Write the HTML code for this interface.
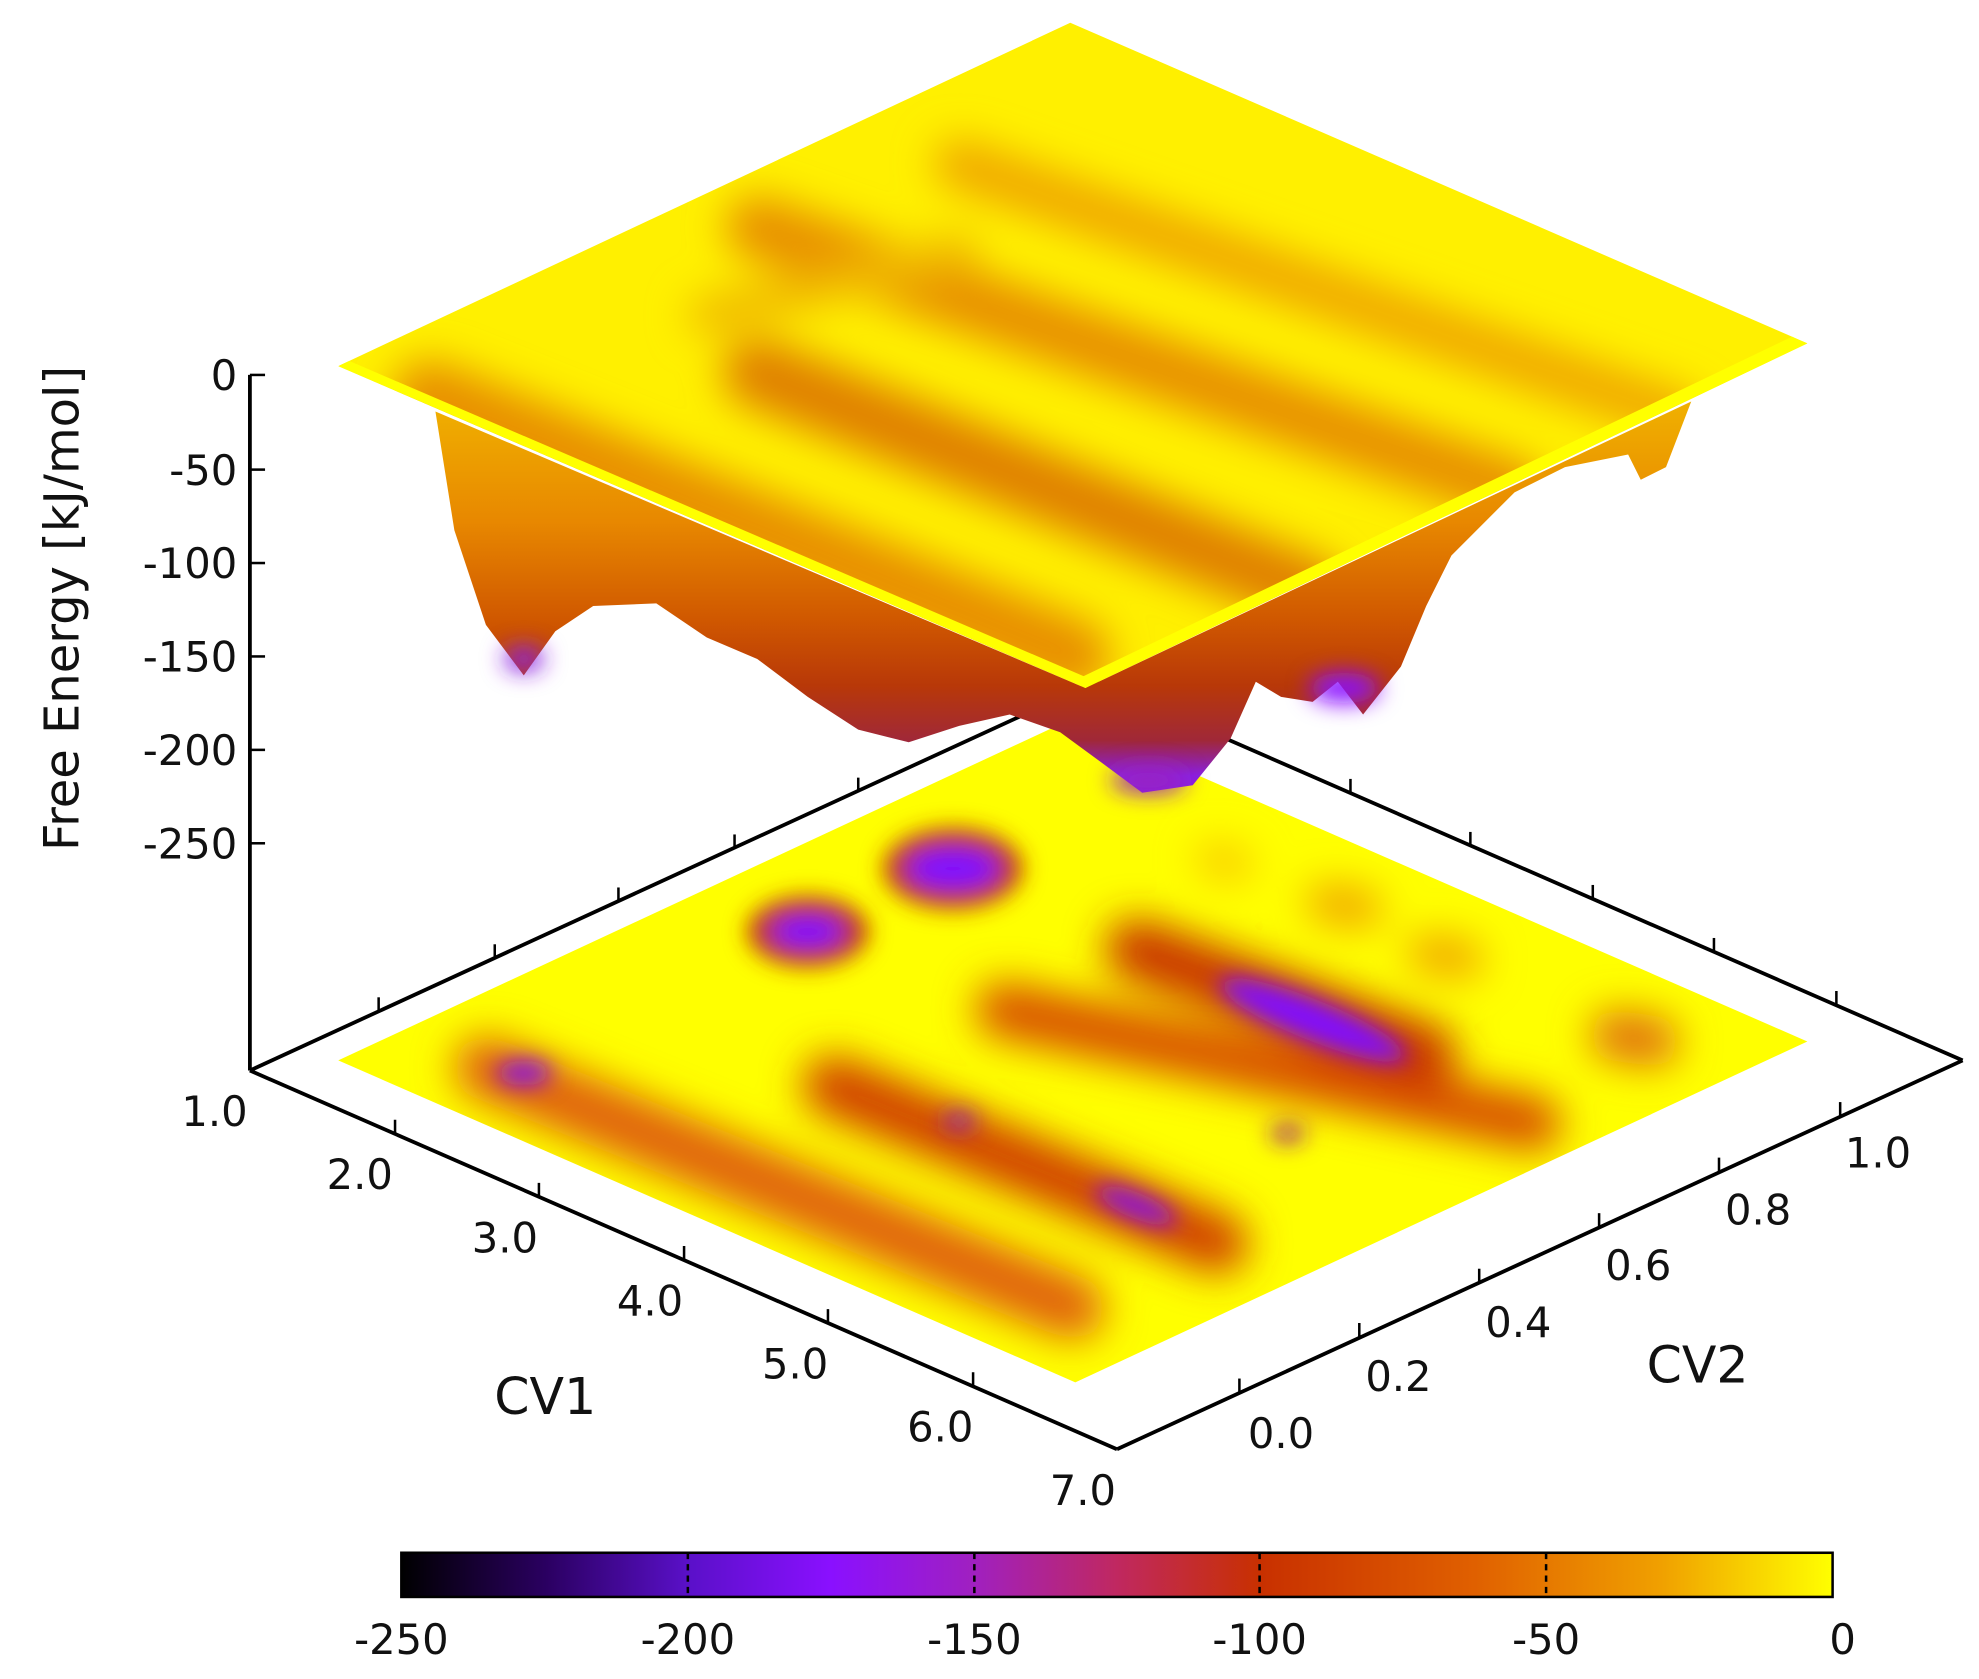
<!DOCTYPE html>
<html><head><meta charset="utf-8"><style>
html,body{margin:0;padding:0;background:#fff;}
svg{display:block;}
text{font-family:"DejaVu Sans","Liberation Sans",sans-serif;fill:#111;}
</style></head><body>
<svg width="1979" height="1679" viewBox="0 0 1568 1330" preserveAspectRatio="none" xmlns="http://www.w3.org/2000/svg">
<defs>
<linearGradient id="cb" x1="0" x2="1" y1="0" y2="0">
<stop offset="0" stop-color="#000000"/>
<stop offset="0.1" stop-color="#2a0060"/>
<stop offset="0.2" stop-color="#5a10c8"/>
<stop offset="0.3" stop-color="#8a10ff"/>
<stop offset="0.4" stop-color="#a020c0"/>
<stop offset="0.5" stop-color="#c02860"/>
<stop offset="0.6" stop-color="#c83000"/>
<stop offset="0.75" stop-color="#e06000"/>
<stop offset="0.88" stop-color="#f0a000"/>
<stop offset="1" stop-color="#ffff00"/>
</linearGradient>
<linearGradient id="wall" x1="0" x2="0" y1="320" y2="630" gradientUnits="userSpaceOnUse">
<stop offset="0" stop-color="#f0b000"/>
<stop offset="0.3" stop-color="#e88800"/>
<stop offset="0.55" stop-color="#d05800"/>
<stop offset="0.72" stop-color="#b83808"/>
<stop offset="0.86" stop-color="#a02838"/>
<stop offset="0.95" stop-color="#8a20e0"/>
</linearGradient>
<filter id="bl" x="-50%" y="-50%" width="200%" height="200%"><feGaussianBlur stdDeviation="16"/></filter>
<filter id="bl2" x="-50%" y="-50%" width="200%" height="200%"><feGaussianBlur stdDeviation="9"/></filter>
<clipPath id="hm"><polygon points="268,840 852,1095 1432,825 848,570"/></clipPath>
<clipPath id="top"><polygon points="268,290 848,18 1432,272 860,545"/></clipPath>
</defs>

<g stroke="#000" stroke-width="3" fill="none">
<line x1="198" y1="848" x2="868" y2="540"/>
<line x1="1555" y1="840" x2="868" y2="540"/>
</g>
<g stroke="#000" stroke-width="2">
<line x1="300" y1="801" x2="300" y2="790"/><line x1="392" y1="759" x2="392" y2="748"/>
<line x1="490" y1="714" x2="490" y2="703"/><line x1="582" y1="672" x2="582" y2="661"/>
<line x1="680" y1="627" x2="680" y2="616"/>
<line x1="1070" y1="628" x2="1070" y2="617"/><line x1="1165" y1="670" x2="1165" y2="659"/>
<line x1="1262" y1="712" x2="1262" y2="701"/><line x1="1358" y1="754" x2="1358" y2="743"/>
<line x1="1455" y1="796" x2="1455" y2="785"/>
</g>

<polygon points="268,840 852,1095 1432,825 848,570" fill="#ffff00"/>
<g clip-path="url(#hm)">
<g filter="url(#bl)" stroke-linecap="round" fill="none">
<line x1="385" y1="846" x2="850" y2="1036" stroke="#e06010" stroke-width="50"/>
<line x1="660" y1="860" x2="965" y2="985" stroke="#d04000" stroke-width="48"/>
<line x1="795" y1="800" x2="1215" y2="890" stroke="#d85000" stroke-width="44"/>
<line x1="900" y1="752" x2="1130" y2="835" stroke="#c83000" stroke-width="48"/>
<line x1="1280" y1="820" x2="1310" y2="825" stroke="#e07010" stroke-width="40"/>
<line x1="1050" y1="715" x2="1080" y2="720" stroke="#f0a000" stroke-width="30"/>
<line x1="1130" y1="755" x2="1160" y2="760" stroke="#f0a000" stroke-width="30"/>
<line x1="960" y1="680" x2="980" y2="685" stroke="#f8c000" stroke-width="24"/>
</g>
<g filter="url(#bl2)">
<ellipse cx="640" cy="738" rx="48" ry="28" fill="#c03010"/>
<ellipse cx="755" cy="688" rx="55" ry="32" fill="#c03010"/>
<ellipse cx="640" cy="738" rx="28" ry="12" fill="#8010ff"/>
<ellipse cx="755" cy="688" rx="36" ry="16" fill="#8010ff"/>
<ellipse cx="415" cy="850" rx="22" ry="10" fill="#8a10e0"/>
<ellipse cx="900" cy="955" rx="35" ry="10" fill="#8a10e0" transform="rotate(22 900 955)"/>
<ellipse cx="760" cy="888" rx="14" ry="7" fill="#9020b0"/>
<ellipse cx="1040" cy="808" rx="80" ry="16" fill="#8010ff" transform="rotate(22 1040 808)"/>
<ellipse cx="1020" cy="898" rx="14" ry="7" fill="#a02080"/>
</g>
</g>

<polygon fill="url(#wall)" points="345,326 360,420 385,495 415,535 440,500 470,480 520,478 560,505 600,522 640,552 680,578 720,588 760,575 800,566 840,580 870,602 905,628 945,622 975,585 995,540 1015,552 1040,556 1060,540 1080,566 1110,528 1130,480 1150,440 1200,390 1240,370 1290,360 1300,380 1320,370 1340,318 860,545"/>
<g filter="url(#bl2)">
<ellipse cx="415" cy="522" rx="16" ry="10" fill="#8a20e0"/>
<ellipse cx="910" cy="618" rx="30" ry="10" fill="#9a20c0"/>
<ellipse cx="1065" cy="545" rx="28" ry="12" fill="#8a10ff"/>
</g>

<polygon points="268,290 848,18 1432,272 860,545" fill="#fff000"/>
<g clip-path="url(#top)">
<g filter="url(#bl)" stroke-linecap="round" fill="none">
<line x1="340" y1="315" x2="850" y2="520" stroke="#e89000" stroke-width="60"/>
<line x1="600" y1="295" x2="1040" y2="470" stroke="#e08000" stroke-width="55"/>
<line x1="600" y1="180" x2="1200" y2="390" stroke="#e89000" stroke-width="50"/>
<line x1="760" y1="130" x2="1330" y2="330" stroke="#f0a800" stroke-width="40"/>
<line x1="560" y1="250" x2="760" y2="200" stroke="#f0b800" stroke-width="30"/>
</g>
<line x1="268" y1="292" x2="860" y2="546" stroke="#ffff00" stroke-width="18"/>
<line x1="860" y1="546" x2="1432" y2="272" stroke="#ffff00" stroke-width="20"/>
</g>

<g stroke="#000" stroke-width="3" fill="none">
<line x1="198" y1="297" x2="198" y2="848"/>
<line x1="198" y1="848" x2="885" y2="1148"/>
<line x1="885" y1="1148" x2="1555" y2="840"/>
</g>
<g stroke="#000" stroke-width="2">
<line x1="198" y1="297" x2="210" y2="297"/><line x1="198" y1="372" x2="210" y2="372"/>
<line x1="198" y1="446" x2="210" y2="446"/><line x1="198" y1="520" x2="210" y2="520"/>
<line x1="198" y1="594" x2="210" y2="594"/><line x1="198" y1="668" x2="210" y2="668"/>
<line x1="313" y1="898" x2="313" y2="887"/><line x1="427" y1="948" x2="427" y2="937"/>
<line x1="542" y1="998" x2="542" y2="987"/><line x1="656" y1="1048" x2="656" y2="1037"/>
<line x1="771" y1="1098" x2="771" y2="1087"/>
<line x1="982" y1="1103" x2="982" y2="1092"/><line x1="1077" y1="1059" x2="1077" y2="1048"/>
<line x1="1172" y1="1016" x2="1172" y2="1005"/><line x1="1267" y1="972" x2="1267" y2="961"/>
<line x1="1362" y1="928" x2="1362" y2="917"/><line x1="1458" y1="884" x2="1458" y2="873"/>
</g>

<g font-size="33" text-anchor="end">
<text x="188" y="309">0</text><text x="188" y="384">-50</text><text x="188" y="458">-100</text>
<text x="188" y="532">-150</text><text x="188" y="606">-200</text><text x="188" y="680">-250</text>
</g>
<g font-size="33" text-anchor="middle">
<text x="170" y="892">1.0</text><text x="285" y="942">2.0</text><text x="400" y="992">3.0</text>
<text x="515" y="1042">4.0</text><text x="630" y="1092">5.0</text><text x="745" y="1142">6.0</text>
<text x="858" y="1192">7.0</text>
<text x="1015" y="1147">0.0</text><text x="1108" y="1102">0.2</text><text x="1203" y="1059">0.4</text>
<text x="1298" y="1014">0.6</text><text x="1393" y="970">0.8</text><text x="1488" y="925">1.0</text>
</g>
<text x="432" y="1120" font-size="40" text-anchor="middle">CV1</text>
<text x="1345" y="1095" font-size="40" text-anchor="middle">CV2</text>
<text transform="translate(62,482) rotate(-90)" font-size="38" text-anchor="middle">Free Energy [kJ/mol]</text>

<rect x="318" y="1230" width="1134" height="35" fill="url(#cb)" stroke="#000" stroke-width="2"/>
<g stroke="#000" stroke-width="2" stroke-dasharray="5,4">
<line x1="545" y1="1230" x2="545" y2="1265"/><line x1="772" y1="1230" x2="772" y2="1265"/>
<line x1="998" y1="1230" x2="998" y2="1265"/><line x1="1225" y1="1230" x2="1225" y2="1265"/>
</g>
<g font-size="33" text-anchor="middle">
<text x="318" y="1310">-250</text><text x="545" y="1310">-200</text><text x="772" y="1310">-150</text>
<text x="998" y="1310">-100</text><text x="1225" y="1310">-50</text><text x="1460" y="1310">0</text>
</g>
</svg>
</body></html>
